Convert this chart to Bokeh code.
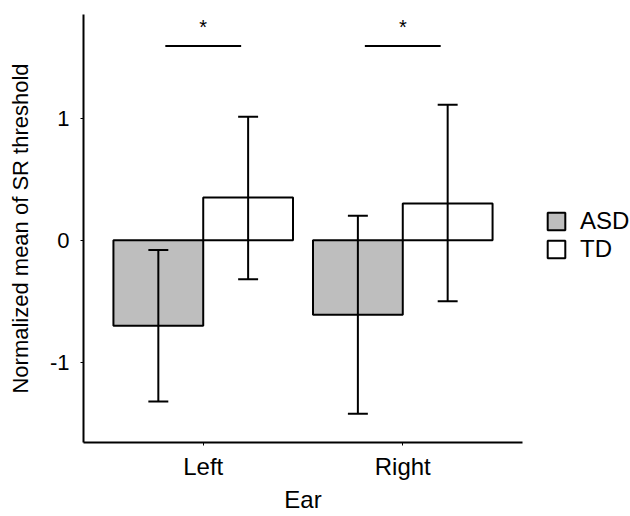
from bokeh.plotting import figure
from bokeh.models import (FactorRange, Range1d, Legend, LegendItem, ColumnDataSource)
from bokeh.transform import dodge
from bokeh.core.properties import value
from bokeh.embed import file_html
from bokeh.resources import INLINE

# ---- data ----
ears = ["Left", "Right"]
groups = ["ASD", "TD"]
asd_mean = [-0.70, -0.61]
asd_lower = [-1.32, -1.42]
asd_upper = [-0.08, 0.20]
td_mean = [0.35, 0.30]
td_lower = [-0.32, -0.50]
td_upper = [1.01, 1.11]
sig_level = [1.59, 1.59]
sig_star_y = [1.745, 1.745]
sig_text = ["*", "*"]
y_ticks = [-1, 0, 1]
y_tick_labels = {-1: "-1", 0: "0", 1: "1"}

FONT = "Liberation Sans"
GREY = "#BEBEBE"

asd_src = ColumnDataSource(dict(ear=ears, mean=asd_mean, lo=asd_lower, hi=asd_upper))
td_src = ColumnDataSource(dict(ear=ears, mean=td_mean, lo=td_lower, hi=td_upper))
sig_src = ColumnDataSource(dict(ear=ears, y=sig_level, ys=sig_star_y, t=sig_text))

p = figure(frame_width=439, frame_height=428, output_backend="svg", toolbar_location=None,
           x_range=FactorRange(*ears, range_padding=0.1, range_padding_units="absolute"),
           y_range=Range1d(-1.656, 1.848),
           min_border_left=83, min_border_right=0, min_border_top=14, min_border_bottom=0,
           x_axis_label="Ear", y_axis_label="Normalized mean of SR threshold")
p.outline_line_color = None
p.xgrid.grid_line_color = None
p.ygrid.grid_line_color = None
p.background_fill_color = "white"

bw = 0.45
r_asd = p.vbar(x=dodge("ear", -bw / 2, range=p.x_range), top="mean", bottom=0, width=bw,
               source=asd_src, fill_color=GREY, line_color="black", line_width=2)
r_td = p.vbar(x=dodge("ear", bw / 2, range=p.x_range), top="mean", bottom=0, width=bw,
              source=td_src, fill_color="white", line_color="black", line_width=2)

cap = 0.05
for src, off in ((asd_src, -bw / 2), (td_src, bw / 2)):
    p.segment(x0=dodge("ear", off, range=p.x_range), x1=dodge("ear", off, range=p.x_range),
              y0="lo", y1="hi", source=src, line_color="black", line_width=2)
    for end in ("lo", "hi"):
        p.segment(x0=dodge("ear", off - cap, range=p.x_range), x1=dodge("ear", off + cap, range=p.x_range),
                  y0=end, y1=end, source=src, line_color="black", line_width=2)

p.segment(x0=dodge("ear", -0.19, range=p.x_range), x1=dodge("ear", 0.19, range=p.x_range),
          y0="y", y1="y", source=sig_src, line_color="black", line_width=2)
p.text(x="ear", y="ys", text="t", source=sig_src, text_font=value(FONT), text_font_size="20px",
       text_align="center", text_baseline="middle", text_color="black")

for ax in (p.xaxis[0], p.yaxis[0]):
    ax.axis_line_width = 2
    ax.axis_line_color = "black"
    ax.major_tick_line_color = "black"
    ax.major_tick_line_width = 1
    ax.major_tick_out = 3
    ax.major_tick_in = 0
    ax.minor_tick_line_color = None
    ax.major_label_text_font = FONT
    ax.major_label_text_color = "black"
    ax.axis_label_text_font = FONT
    ax.axis_label_text_font_style = "normal"
    ax.axis_label_text_color = "black"

p.xaxis.major_label_text_font_size = "24px"
p.xaxis.axis_label_text_font_size = "24px"
p.xaxis.major_label_standoff = 7
p.xaxis.axis_label_standoff = 3

p.yaxis.ticker = y_ticks
p.yaxis.major_label_overrides = y_tick_labels
p.yaxis.major_label_text_font_size = "22px"
p.yaxis.axis_label_text_font_size = "22px"
p.yaxis.major_label_standoff = 11
p.yaxis.axis_label_standoff = 14

legend = Legend(items=[LegendItem(label=groups[0], renderers=[r_asd]),
                       LegendItem(label=groups[1], renderers=[r_td])],
                location=(23, 179), orientation="vertical",
                glyph_width=22, glyph_height=22, spacing=0, padding=0, margin=0,
                label_standoff=13, label_text_font=FONT, label_text_font_size="24px",
                label_text_line_height=0.95,
                label_text_color="black", label_height=22,
                border_line_alpha=0, background_fill_alpha=0)
p.add_layout(legend, "right")

open("out.html", "w").write(file_html(p, INLINE))
